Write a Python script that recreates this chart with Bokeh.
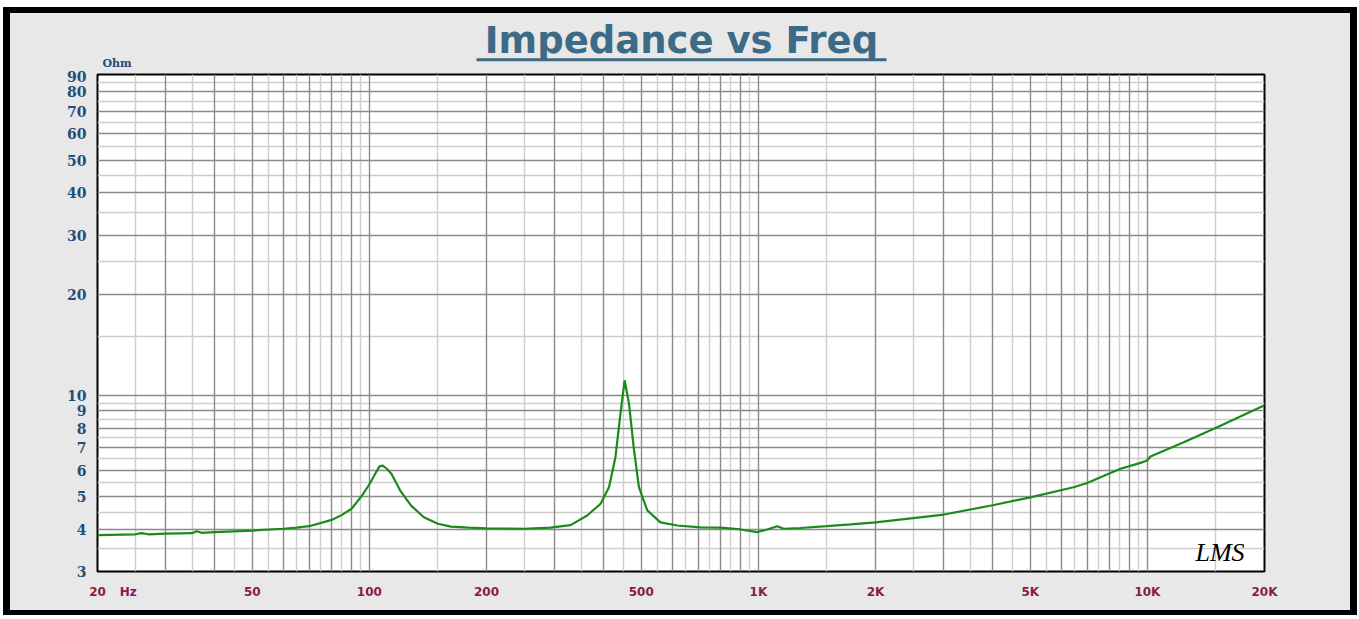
from bokeh.plotting import figure
from bokeh.layouts import column
from bokeh.models import Range1d, FixedTicker, Grid, Label, ColumnDataSource
from bokeh.core.properties import value
from bokeh.embed import file_html
from bokeh.resources import INLINE

# ---------------- data ----------------
freq_hz = [20, 25, 26, 27, 30, 35, 36, 37, 40, 50, 60, 65, 70, 80, 85, 90,
           95.8, 100, 103, 106, 108, 111, 114, 120, 128, 138, 150, 162, 180,
           200, 250, 292, 329, 363, 393, 413, 429, 442, 453, 465, 478, 493,
           518, 560, 619, 710, 800, 900, 993, 1053, 1118, 1162, 1283, 1500,
           1725, 2000, 3000, 4000, 5000, 6500, 7000, 7576, 8528, 9600, 9988,
           10184, 12402, 15118, 20000]
impedance_ohm = [3.85, 3.87, 3.90, 3.87, 3.89, 3.90, 3.95, 3.91, 3.93, 3.97,
                 4.02, 4.05, 4.09, 4.27, 4.42, 4.61, 5.05, 5.45, 5.80, 6.15,
                 6.20, 6.05, 5.85, 5.22, 4.71, 4.35, 4.16, 4.08, 4.05, 4.03,
                 4.02, 4.05, 4.12, 4.40, 4.77, 5.34, 6.56, 8.83, 11.1, 9.45,
                 7.02, 5.34, 4.56, 4.20, 4.11, 4.06, 4.05, 4.00, 3.93, 4.00,
                 4.09, 4.02, 4.04, 4.09, 4.14, 4.20, 4.43, 4.72, 4.98, 5.35,
                 5.50, 5.72, 6.06, 6.31, 6.41, 6.59, 7.27, 8.05, 9.36]

# x tick labels (the "Hz" unit sits just right of the 20 Hz label)
x_ticks = [20, 24, 50, 100, 200, 500, 1000, 2000, 5000, 10000, 20000]
x_tick_labels = ["20", "Hz", "50", "100", "200", "500", "1K", "2K", "5K",
                 "10K", "20K"]
y_ticks = [3, 4, 5, 6, 7, 8, 9, 10, 20, 30, 40, 50, 60, 70, 80, 90]
y_tick_labels = ["3", "4", "5", "6", "7", "8", "9", "10", "20", "30", "40",
                 "50", "60", "70", "80", "90"]

title_text = "Impedance vs Freq"
y_unit = "Ohm"
signature = "LMS"

# grid mantissas (dark = whole steps, light = half steps)
dark_mant = [1, 2, 3, 4, 5, 6, 7, 8, 9]
light_mant = [1.5, 2.5, 3.5, 4.5, 5.5, 6.5, 7.5, 8.5, 9.5]
x_decades = [10, 100, 1000, 10000]
y_decades = [1, 10]

x_dark = [m * d for d in x_decades for m in dark_mant if 20 <= m * d <= 20000]
x_light = [m * d for d in x_decades for m in light_mant if 20 <= m * d <= 20000]
y_dark = [m * d for d in y_decades for m in dark_mant if 3 <= m * d <= 90]
y_light = [m * d for d in y_decades for m in light_mant if 3 <= m * d <= 90]

# ---------------- styling / layout ----------------
BG = "#e8e8e8"
TITLE_C = "#3d6b87"
YLAB_C = "#1c4f7c"
XLAB_C = "#8b1a4b"
CURVE_C = "#1a8a1a"

W = 1340             # inner (grey) width
HH = 57              # header height   (page y 13 -> 70)
HM = 540             # main plot height (page y 70 -> 610)
BL, BR = 87, 86      # side borders -> plot frame at page x 97..1264

# ---------- header (title, underline, unit); coordinates in page pixels ----------
hdr = figure(width=W, height=HH, x_range=Range1d(97, 1264), y_range=Range1d(70, 13),
             output_backend="svg", toolbar_location=None,
             x_axis_location=None, y_axis_location=None,
             min_border_left=BL, min_border_right=BR,
             min_border_top=0, min_border_bottom=0)
hdr.background_fill_color = BG
hdr.border_fill_color = BG
hdr.outline_line_color = None
hdr.xgrid.visible = False
hdr.ygrid.visible = False

hdr.text(x=[681], y=[40.3], text=[title_text], text_align="center",
         text_baseline="middle", text_font=value("DejaVu Sans"),
         text_font_style="bold", text_font_size="37px", text_color=TITLE_C)
hdr.quad(left=[476], right=[886], top=[57.7], bottom=[60.7],
         fill_color=TITLE_C, line_color=None)
hdr.text(x=[102], y=[63], text=[y_unit], text_align="left",
         text_baseline="middle", text_font=value("DejaVu Serif"),
         text_font_style="bold", text_font_size="11px", text_color=YLAB_C)

# ---------- main chart ----------
p = figure(width=W, height=HM, x_axis_type="log", y_axis_type="log",
           x_range=Range1d(20, 20000), y_range=Range1d(3, 90),
           output_backend="svg", toolbar_location=None,
           min_border_left=BL, min_border_right=BR,
           min_border_top=4, min_border_bottom=39)
p.background_fill_color = "white"
p.border_fill_color = BG
p.outline_line_color = "black"
p.outline_line_width = 2

# grids
p.xgrid.ticker = FixedTicker(ticks=x_dark)
p.ygrid.ticker = FixedTicker(ticks=y_dark)
for g in (p.xgrid, p.ygrid):
    g.grid_line_color = "#8a8a8a"
    g.grid_line_width = 1.4
lx = Grid(dimension=0, ticker=FixedTicker(ticks=x_light),
          grid_line_color="#cdcdcd", grid_line_width=1.4)
ly = Grid(dimension=1, ticker=FixedTicker(ticks=y_light),
          grid_line_color="#cdcdcd", grid_line_width=1.4)
p.renderers.insert(0, lx)
p.renderers.insert(0, ly)

# axes
xa = p.xaxis[0]
xa.ticker = FixedTicker(ticks=x_ticks)
xa.major_label_overrides = {t: l for t, l in zip(x_ticks, x_tick_labels)}
xa.axis_line_color = None
xa.major_tick_line_color = None
xa.minor_tick_line_color = None
xa.major_label_standoff = 7
xa.major_label_text_font = "DejaVu Sans"
xa.major_label_text_font_style = "bold"
xa.major_label_text_font_size = "12px"
xa.major_label_text_color = XLAB_C

ya = p.yaxis[0]
ya.ticker = FixedTicker(ticks=y_ticks)
ya.major_label_overrides = {t: l for t, l in zip(y_ticks, y_tick_labels)}
ya.axis_line_color = None
ya.major_tick_line_color = None
ya.minor_tick_line_color = None
ya.major_label_standoff = 5
ya.major_label_text_font = "DejaVu Serif"
ya.major_label_text_font_style = "bold"
ya.major_label_text_font_size = "14px"
ya.major_label_text_color = YLAB_C

# curve
src = ColumnDataSource(dict(f=freq_hz, z=impedance_ohm))
p.line("f", "z", source=src, line_color=CURVE_C, line_width=2.2)

# signature
p.add_layout(Label(x=1185, y=482, x_units="canvas", y_units="canvas",
                   text=signature, text_align="left", text_baseline="middle",
                   text_font="Liberation Serif", text_font_style="italic",
                   text_font_size="26px", text_color="black"))

# grey panel (inner) inside the black frame (outer)
inner = column(hdr, p, spacing=0, margin=(6, 7, 5, 7),
               styles={"background-color": BG})
layout = column(inner, spacing=0, margin=(7, 0, 0, 3),
                styles={"background-color": "black"})

open("out.html", "w").write(file_html(layout, INLINE))
